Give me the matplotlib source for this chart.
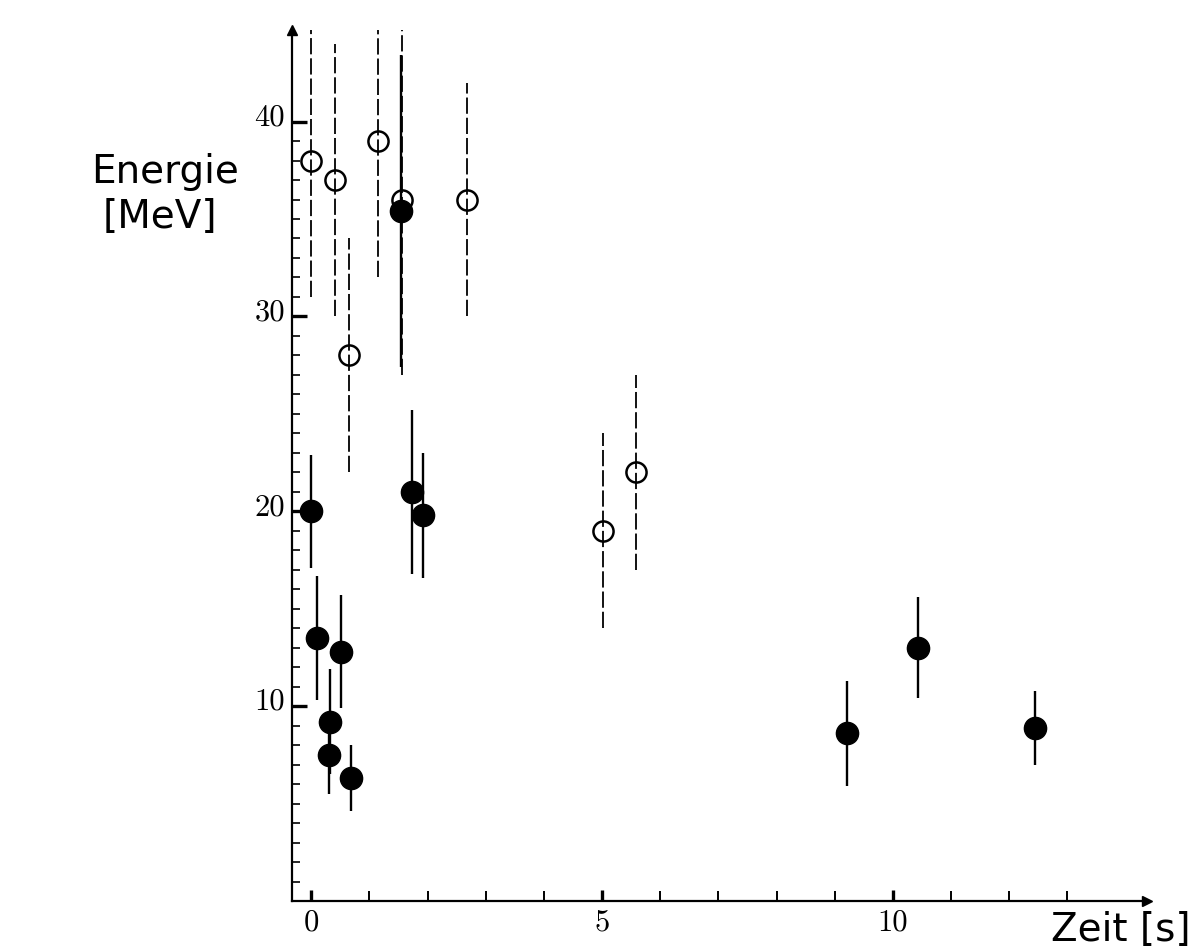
import matplotlib
matplotlib.use("Agg")
import matplotlib.pyplot as plt
import matplotlib.transforms as mtransforms

# Kamiokande-II events (filled markers)
kam_time = [0.000, 0.107, 0.303, 0.324, 0.507, 0.686, 1.541, 1.728, 1.915, 9.219, 10.433, 12.439]
kam_energy = [20.0, 13.5, 7.5, 9.2, 12.8, 6.3, 35.4, 21.0, 19.8, 8.6, 13.0, 8.9]
kam_err = [2.9, 3.2, 2.0, 2.7, 2.9, 1.7, 8.0, 4.2, 3.2, 2.7, 2.6, 1.9]

# IMB events (open markers, dashed error bars)
imb_time = [0.000, 0.412, 0.650, 1.141, 1.562, 2.684, 5.010, 5.582]
imb_energy = [38.0, 37.0, 28.0, 39.0, 36.0, 36.0, 19.0, 22.0]
imb_err = [7.0, 7.0, 6.0, 7.0, 9.0, 6.0, 5.0, 5.0]

x_major = [0, 5, 10]
x_minor = list(range(1, 14))
y_major = [10, 20, 30, 40]
y_minor = list(range(1, 40))

W, H = 1195, 951
fig = plt.figure(figsize=(W / 100, H / 100), dpi=100)

left_px, right_px, bottom_px, top_px = 292, 1147, 901, 30
ax = fig.add_axes([left_px / W, (H - bottom_px) / H,
                   (right_px - left_px) / W, (bottom_px - top_px) / H])
ax.set_xlim(-0.33, 14.37)
ax.set_ylim(0, 44.7)

for s in ("top", "right"):
    ax.spines[s].set_visible(False)
for s in ("left", "bottom"):
    ax.spines[s].set_linewidth(1.6)
    ax.spines[s].set_zorder(1)

# axis arrowheads
ax.plot(1, 0, ">", color="black", ms=7, transform=ax.transAxes, clip_on=False)
ax.plot(0, 1, "^", color="black", ms=7, transform=ax.transAxes, clip_on=False)

# IMB: dashed error bars, hollow circles
eb = ax.errorbar(imb_time, imb_energy, yerr=imb_err, fmt="none",
                 ecolor="black", elinewidth=1.3, capsize=0, zorder=2)
eb[2][0].set_linestyle((0, (9, 2.2)))
ax.plot(imb_time, imb_energy, "o", ms=14.5, mfc="none", mec="black",
        mew=1.8, zorder=3)

# Kamiokande: solid error bars, filled circles
ax.errorbar(kam_time, kam_energy, yerr=kam_err, fmt="o", color="black",
            ms=16, elinewidth=1.7, capsize=0, zorder=4)

# ticks
ax.set_xticks(x_major)
ax.set_xticks(x_minor, minor=True)
ax.set_yticks(y_major)
ax.set_yticks(y_minor, minor=True)
ax.tick_params(axis="both", which="major", direction="in", color="black")
ax.tick_params(axis="x", which="major", length=8, width=2.4, pad=6)
ax.tick_params(axis="x", which="minor", direction="in", length=7, width=1.4)
ax.tick_params(axis="y", which="major", length=11, width=2.4, pad=5)
ax.tick_params(axis="y", which="minor", direction="in", length=6, width=1.2)

tick_font = dict(family="cmr10", size=22)
ax.set_xticklabels([str(v) for v in x_major], fontdict=tick_font)
ax.set_yticklabels([str(v) for v in y_major], fontdict=tick_font)
shift = mtransforms.ScaledTranslation(0, 7 / 100, fig.dpi_scale_trans)
for lab in ax.get_yticklabels():
    lab.set_transform(lab.get_transform() + shift)

fig.text(165 / W, 1 - 172 / H, "Energie", ha="center", va="center",
         family="DejaVu Sans", fontsize=28)
fig.text(160 / W, 1 - 217 / H, "[MeV]", ha="center", va="center",
         family="DejaVu Sans", fontsize=28)
fig.text(1191 / W, 1 - 930 / H, "Zeit [s]", ha="right", va="center",
         family="DejaVu Sans", fontsize=28)

fig.savefig("out.png", dpi=100, facecolor="white")
